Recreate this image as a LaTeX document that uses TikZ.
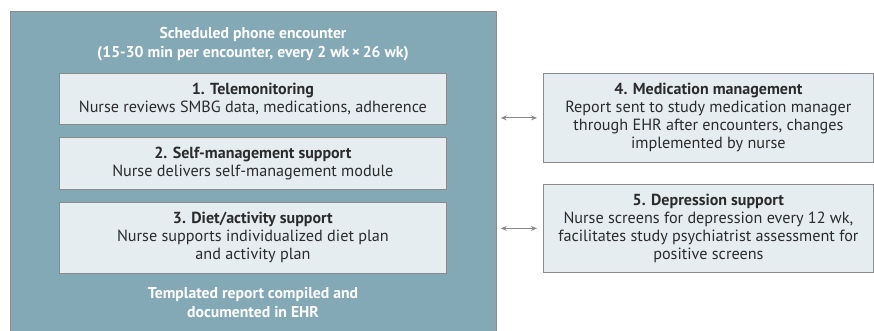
\documentclass[tikz,border=0pt]{standalone}
\usepackage{fontspec}
\setmainfont{PT Sans}
\usetikzlibrary{arrows.meta}
\definecolor{outerfill}{HTML}{84A9B6}
\definecolor{innerfill}{HTML}{E6EDF1}
\definecolor{edgegrey}{HTML}{8A8A8A}
\definecolor{txt}{HTML}{2B2B2B}
\newcommand{\hd}[1]{{\fontsize{16}{18}\selectfont\bfseries #1}}
\tikzset{
  outerbox/.style={draw=edgegrey, line width=0.8pt, fill=outerfill, rectangle, anchor=north west, inner sep=0pt},
  innerbox/.style={draw=edgegrey, line width=0.8pt, fill=innerfill, rectangle, anchor=north west, inner sep=0pt, align=center, text=txt, font=\fontsize{16.2}{18}\selectfont},
  titletext/.style={text=white, align=center, font=\fontsize{15.7}{19}\selectfont\bfseries},
  linkarrow/.style={draw=edgegrey, line width=1pt, {Stealth[length=6pt,width=5pt]}-{Stealth[length=6pt,width=5pt]}},
}
\begin{document}
\begin{tikzpicture}[x=1pt,y=-1pt]
\useasboundingbox (0,0) rectangle (874,331);
\node[outerbox, minimum width=486pt, minimum height=322pt] (outer) at (10,11) {};
\node[titletext] (ttl) at (253,44) {Scheduled phone encounter\\(15-30 min per encounter, every 2 wk\,×\,26 wk)};
\node[innerbox, minimum width=387pt, minimum height=51pt] (b1) at (59,73) {\hd{1. Telemonitoring}\\Nurse reviews SMBG data, medications, adherence};
\node[innerbox, minimum width=387pt, minimum height=52pt] (b2) at (59,137) {\hd{2. Self-management support}\\Nurse delivers self-management module};
\node[innerbox, minimum width=387pt, minimum height=71pt] (b3) at (59,202) {\hd{3. Diet/activity support}\\Nurse supports individualized diet plan\\and activity plan};
\node[titletext] (btm) at (253,303) {Templated report compiled and\\documented in EHR};
\node[innerbox, minimum width=330pt, minimum height=89pt] (b4) at (543,73) {\hd{4. Medication management}\\Report sent to study medication manager\\through EHR after encounters, changes\\implemented by nurse};
\node[innerbox, minimum width=330pt, minimum height=88pt] (b5) at (543,184) {\hd{5. Depression support}\\Nurse screens for depression every 12 wk,\\facilitates study psychiatrist assessment for\\positive screens};
\draw[linkarrow, shorten <=4pt, shorten >=6pt] (outer.east |- b4.west) -- (b4.west);
\draw[linkarrow, shorten <=4pt, shorten >=6pt] (outer.east |- b5.west) -- (b5.west);
\end{tikzpicture}
\end{document}
